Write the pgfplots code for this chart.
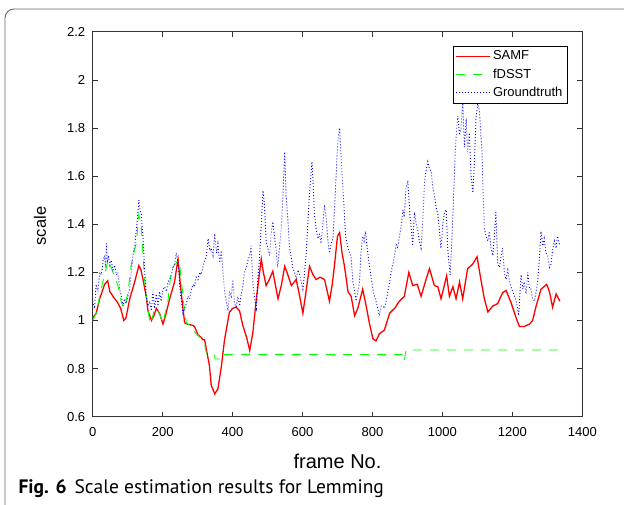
\documentclass[border=0pt]{standalone}
\usepackage{fontspec}
\setmainfont{Liberation Sans}
\newfontfamily\capfont{PT Sans}
\usepackage{pgfplots}
\pgfplotsset{compat=1.18}
\pgfplotsset{legend image code/.code={\draw[#1] (0pt,0pt) -- (34pt,0pt);}}

% SAMF, fDSST and groundtruth scale per frame (Lemming)
\pgfplotstableread{
f v
0 1.01
10 1.03
20 1.09
34 1.15
43 1.165
49 1.12
63 1.09
71 1.075
80 1.05
89 1.00
95 1.01
106 1.09
120 1.16
132 1.228
138 1.21
144 1.17
153 1.10
158 1.04
168 1.00
175 1.02
182 1.05
191 1.03
201 0.985
210 1.03
220 1.09
234 1.16
244 1.255
250 1.16
258 1.05
263 0.99
270 0.985
285 0.98
291 0.975
301 0.94
310 0.93
315 0.92
320 0.92
325 0.88
334 0.81
339 0.73
349 0.695
358 0.715
368 0.81
377 0.92
391 1.035
400 1.05
410 1.056
420 1.04
429 0.98
440 0.93
449 0.875
458 0.95
468 1.09
482 1.255
488 1.20
496 1.145
505 1.17
515 1.205
522 1.15
530 1.09
540 1.15
549 1.225
558 1.19
568 1.145
582 1.17
592 1.10
601 1.03
610 1.12
620 1.225
630 1.19
639 1.17
650 1.18
663 1.17
677 1.08
685 1.15
691 1.225
700 1.35
706 1.365
713 1.28
720 1.225
730 1.12
739 1.10
749 1.02
758 1.05
772 1.13
782 1.06
791 0.99
801 0.925
810 0.915
820 0.945
834 0.96
849 1.03
863 1.05
877 1.08
891 1.10
904 1.20
915 1.145
928 1.15
939 1.10
951 1.16
963 1.215
977 1.145
987 1.14
996 1.09
1012 1.185
1020 1.10
1030 1.14
1039 1.09
1049 1.16
1058 1.09
1072 1.215
1087 1.235
1099 1.265
1110 1.17
1120 1.09
1130 1.035
1144 1.06
1158 1.07
1172 1.115
1182 1.125
1196 1.075
1211 1.01
1220 0.975
1234 0.975
1249 0.985
1258 1.00
1268 1.06
1282 1.13
1298 1.15
1306 1.12
1315 1.055
1325 1.11
1336 1.08
}\samf

\pgfplotstableread{
f v
0 1.0
10 1.03
20 1.10
29 1.16
44 1.25
53 1.22
63 1.18
72 1.145
82 1.075
91 1.05
101 1.12
110 1.23
125 1.325
132 1.44
139 1.39
144 1.27
149 1.16
156 1.075
163 0.99
166 0.985
177 1.05
187 1.04
201 0.99
215 1.08
225 1.215
234 1.23
244 1.25
250 1.215
256 1.13
263 1.035
268 0.99
277 0.98
296 0.945
310 0.925
320 0.90
325 0.865
330 0.858
348 0.858
350 0.84
363 0.84
365 0.858
884 0.858
887 0.85
889 0.83
891 0.83
894 0.86
896 0.877
1336 0.877
}\fdsst

\pgfplotstableread{
f v
0 1.08
5 1.05
10 1.15
15 1.12
20 1.20
25 1.19
30 1.25
34 1.27
37 1.22
39 1.32
42 1.24
45 1.27
49 1.23
53 1.25
58 1.21
63 1.23
68 1.19
72 1.20
77 1.13
82 1.10
87 1.06
91 1.09
96 1.07
101 1.10
106 1.13
110 1.20
115 1.27
120 1.31
125 1.38
129 1.44
132 1.50
135 1.46
139 1.44
144 1.34
149 1.20
153 1.10
158 1.06
163 1.08
168 1.04
172 1.12
177 1.05
182 1.11
187 1.06
191 1.12
196 1.08
201 1.13
206 1.14
211 1.12
215 1.16
220 1.17
225 1.19
230 1.22
235 1.24
239 1.28
243 1.25
247 1.19
250 1.12
253 1.09
258 1.03
263 1.05
268 1.07
272 1.10
277 1.09
282 1.13
287 1.15
291 1.14
296 1.18
301 1.17
306 1.20
310 1.19
315 1.22
320 1.25
325 1.27
330 1.34
335 1.29
339 1.30
344 1.27
349 1.36
354 1.28
358 1.32
363 1.24
368 1.29
372 1.21
377 1.12
382 1.08
387 1.04
391 1.12
396 1.10
401 1.17
405 1.08
410 1.05
415 1.10
420 1.06
425 1.11
429 1.14
434 1.20
439 1.22
444 1.25
449 1.27
453 1.31
458 1.16
463 1.09
468 1.05
472 1.17
477 1.26
482 1.40
487 1.54
491 1.48
496 1.33
501 1.30
506 1.27
510 1.36
515 1.41
520 1.35
524 1.30
529 1.22
534 1.30
539 1.38
544 1.52
549 1.70
553 1.52
558 1.42
563 1.30
568 1.26
572 1.22
577 1.20
582 1.17
587 1.21
592 1.19
596 1.16
601 1.13
606 1.20
610 1.27
615 1.40
620 1.53
624 1.60
627 1.66
630 1.58
634 1.44
639 1.38
644 1.34
649 1.36
653 1.32
658 1.40
663 1.48
668 1.42
672 1.34
677 1.28
682 1.32
687 1.34
691 1.45
696 1.60
700 1.72
703 1.77
706 1.80
711 1.66
717 1.51
723 1.35
730 1.30
735 1.28
739 1.26
744 1.16
749 1.12
753 1.08
758 1.12
763 1.16
767 1.28
772 1.35
776 1.33
780 1.37
785 1.30
791 1.23
796 1.18
801 1.13
806 1.10
810 1.08
815 1.05
820 1.02
825 1.06
830 1.06
834 1.05
839 1.08
844 1.12
849 1.16
853 1.20
858 1.23
863 1.27
868 1.32
872 1.30
877 1.35
882 1.39
887 1.46
891 1.43
896 1.55
901 1.58
907 1.44
911 1.38
915 1.31
920 1.45
925 1.40
930 1.37
934 1.33
939 1.30
944 1.42
949 1.58
953 1.62
958 1.66
963 1.63
968 1.62
972 1.56
977 1.52
982 1.47
987 1.44
991 1.38
996 1.30
1001 1.40
1006 1.45
1011 1.46
1015 1.30
1020 1.22
1022 1.19
1026 1.30
1030 1.44
1034 1.60
1037 1.71
1041 1.80
1044 1.85
1049 1.77
1053 1.80
1058 1.91
1063 1.72
1068 1.84
1072 1.70
1077 1.78
1082 1.60
1087 1.53
1091 1.64
1096 1.84
1101 1.90
1106 1.87
1110 1.77
1113 1.71
1117 1.51
1120 1.38
1125 1.35
1130 1.33
1134 1.37
1139 1.30
1144 1.27
1149 1.36
1153 1.45
1158 1.24
1163 1.22
1168 1.27
1172 1.30
1177 1.20
1182 1.17
1187 1.21
1191 1.17
1196 1.14
1201 1.12
1206 1.10
1211 1.08
1215 1.05
1218 1.02
1222 1.12
1225 1.19
1230 1.13
1234 1.16
1239 1.11
1244 1.20
1249 1.13
1253 1.13
1258 1.09
1263 1.08
1268 1.12
1272 1.16
1277 1.25
1282 1.37
1287 1.31
1291 1.34
1296 1.28
1301 1.27
1306 1.22
1310 1.23
1315 1.29
1320 1.33
1325 1.30
1329 1.35
1336 1.31
}\gt

\begin{document}
\begin{tikzpicture}
\useasboundingbox (0pt,0pt) rectangle (624pt,-505pt);
\draw[black!60, line width=0.9pt, rounded corners=9pt] (5pt,-520pt) -- (5pt,-9pt) -- (640pt,-9pt);
\begin{axis}[
    at={(92.7pt,-416.7pt)}, anchor=south west,
    width=489.6pt, height=385pt, scale only axis,
    xmin=0, xmax=1400, ymin=0.6, ymax=2.2,
    xtick={0,200,...,1400},
    ytick={0.6,0.8,...,2.2},
    tick align=inside, major tick length=5pt,
    axis line style={black!80, line width=0.6pt},
    every tick/.style={black!80, line width=0.6pt},
    /pgf/number format/assume math mode=true,
    /pgf/number format/1000 sep={},
    ticklabel style={font=\fontsize{13}{15}\selectfont},
    xticklabel style={yshift=-7pt},
    yticklabel style={xshift=-4pt, /pgf/number format/fixed, /pgf/number format/precision=1},
    legend cell align=left,
    legend style={at={(0.970,0.9636)}, anchor=north east,
        font=\fontsize{13}{15}\selectfont,
        fill=white, row sep=3.5pt, inner xsep=3pt, inner ysep=3pt},
]
\addplot[red, line width=1.3pt] table[x=f,y=v] {\samf};
\addplot[green, line width=0.9pt, dash pattern=on 9pt off 8pt] table[x=f,y=v] {\fdsst};
\addplot[blue, line width=0.9pt, dash pattern=on 0.9pt off 2.1pt] table[x=f,y=v] {\gt};
\legend{SAMF, fDSST, Groundtruth}
\end{axis}
\node[font=\fontsize{20}{22}\selectfont] at (337.5pt,-461pt) {frame No.};
\node[rotate=90, font=\fontsize{16.5}{18}\selectfont] at (40pt,-226pt) {scale};
\node[anchor=base west, font=\fontsize{19.5}{22}\selectfont] at (15pt,-493pt)
    {\capfont\textbf{Fig. 6}\hspace{8pt}Scale estimation results for Lemming};
\end{tikzpicture}
\end{document}
